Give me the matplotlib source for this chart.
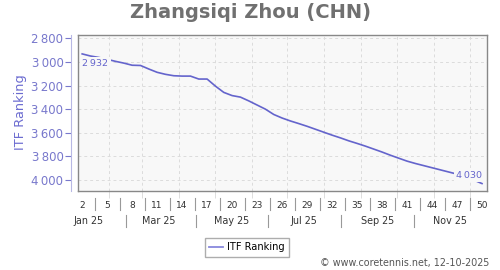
import datetime as dt
import matplotlib
matplotlib.use("Agg")
import matplotlib.pyplot as plt
from matplotlib.lines import Line2D
import matplotlib.transforms as mtransforms

# weekly ITF ranking, 2025 (ISO weeks 2..50)
weeks = list(range(2, 51))
ranking = [2932, 2950, 2962, 2978, 2995, 3010, 3028, 3030, 3060, 3088,
           3105, 3117, 3120, 3120, 3145, 3145, 3205, 3258, 3285, 3298,
           3330, 3365, 3400, 3445, 3475, 3500, 3522, 3545, 3570, 3595,
           3620, 3643, 3668, 3690, 3713, 3738, 3763, 3790, 3815, 3840,
           3860, 3878, 3896, 3914, 3932, 3950, 3975, 4000, 4030]
week_ticks = list(range(2, 51, 3))
month_labels = ["Jan 25", "Mar 25", "May 25", "Jul 25", "Sep 25", "Nov 25"]
y_ticks = [2800, 3000, 3200, 3400, 3600, 3800, 4000]

LINE = "#6464cc"
AXC = "#7878cc"


def doy(d):
    return d.timetuple().tm_yday


def week_x(w):
    # x position (day of year) of a week, mid-week
    return 7 * (w - 2) + 9.5


def fmt(v):
    s = f"{v:,}"
    return s.replace(",", "\u2009")


xs = [week_x(w) for w in weeks]
month_starts = [doy(dt.date(2025, m, 1)) for m in range(2, 13)]
month_mid = [doy(dt.date(2025, m, 15)) for m in range(1, 13)]

fig = plt.figure(figsize=(5, 2.7), dpi=100)
ax = fig.add_axes([78 / 500, 1 - 191 / 270, 409 / 500, 156 / 270])
ax.set_facecolor("#f8f8f8")
ax.plot(xs, ranking, color=LINE, lw=1.2, zorder=3)
ax.set_xlim(6.0, 349.7)
ax.set_ylim(4093, 2772)

# grid
ax.set_yticks(y_ticks)
ax.set_yticklabels([fmt(v) for v in y_ticks])
ax.set_xticks(month_starts, minor=True)
ax.set_xticks([week_x(w) for w in week_ticks])
ax.set_xticklabels([str(w) for w in week_ticks])
ax.grid(True, which="minor", axis="x", color="#dcdcdc", ls=(0, (3, 3)), lw=0.7)
ax.grid(True, which="major", axis="y", color="#dcdcdc", ls=(0, (3, 3)), lw=0.7)
ax.tick_params(axis="x", which="minor", length=5, color="#dddddd", width=0.7)
ax.tick_params(axis="x", which="major", length=0, pad=7, labelsize=6.5, labelcolor="#333333")
ax.tick_params(axis="y", length=4, color=AXC, width=0.8, pad=1.5, labelsize=8.5, labelcolor=AXC)

for s in ["top", "right", "bottom"]:
    ax.spines[s].set_color("#888888")
    ax.spines[s].set_linewidth(1.0)
ax.spines["left"].set_position(("outward", 5))
ax.spines["left"].set_color("#b8b8e4")
ax.spines["left"].set_bounds(4093, 2772)
ax.axvline(6.0, color="#888888", lw=1.0, clip_on=False, zorder=4)

# separators under the x axis
bt = mtransforms.blended_transform_factory(ax.transData, ax.transAxes)
for w in week_ticks[:-1]:
    xm = week_x(w + 1.5)
    ax.add_line(Line2D([xm, xm], [-0.045, -0.122], transform=bt, color="#999999", lw=0.8, clip_on=False))
for i, lab in enumerate(month_labels):
    ax.text(month_mid[2 * i], -0.19, lab, transform=bt, ha="center", va="center",
            fontsize=6.9, color="#333333")
    if i < len(month_labels) - 1:
        xm = month_mid[2 * i + 1]
        ax.add_line(Line2D([xm, xm], [-0.154, -0.231], transform=bt, color="#999999", lw=0.8, clip_on=False))

# first / last value labels
box = dict(boxstyle="square,pad=0.25", fc="#f8f8f8", ec="none")
ax.annotate(fmt(ranking[0]), (xs[0], ranking[0]), xytext=(0, -5), textcoords="offset pixels",
            ha="left", va="top", fontsize=6.8, color=LINE, bbox=box, zorder=5)
ax.annotate(fmt(ranking[-1]), (xs[-1], ranking[-1]), xytext=(0, 4), textcoords="offset pixels",
            ha="right", va="bottom", fontsize=6.8, color=LINE, bbox=box, zorder=5)

fig.text(0.5, 1 - 13 / 270, "Zhangsiqi Zhou (CHN)", ha="center", va="center",
         fontsize=14, fontweight="bold", color="#707070")
fig.text(21 / 500, 1 - 112 / 270, "ITF Ranking", rotation=90, ha="center", va="center",
         fontsize=9.3, color="#6b6bd0")

handle = Line2D([], [], color="#8888dd", lw=1.3)
fig.legend([handle], ["ITF Ranking"], loc="center", bbox_to_anchor=(247 / 500, 1 - 247.5 / 270),
           fontsize=7.1, frameon=True, fancybox=False, edgecolor="#999999", handlelength=1.4,
           handletextpad=0.4, borderpad=0.45, borderaxespad=0)

fig.text(489 / 500, 1 - 263 / 270, "\u00a9 www.coretennis.net, 12-10-2025", ha="right", va="center",
         fontsize=6.9, color="#555555")

fig.savefig("out.png", dpi=100)
